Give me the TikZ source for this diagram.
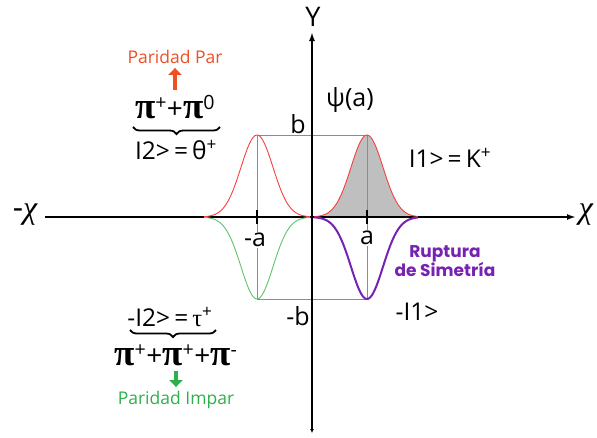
\documentclass[tikz,border=0pt]{standalone}
\usepackage{fontspec}
\setmainfont{Open Sans}
\newfontfamily\grk{Liberation Serif}
\newfontfamily\rup{Poppins}
\usetikzlibrary{arrows.meta,decorations.pathreplacing,positioning}
\definecolor{parred}{RGB}{240,78,35}
\definecolor{curvered}{RGB}{248,62,62}
\definecolor{impgreen}{RGB}{45,176,75}
\definecolor{curvegreen}{RGB}{95,195,110}
\definecolor{rupviolet}{RGB}{118,34,178}

\begin{document}
\begin{tikzpicture}[x=1pt,y=1pt,
    lbl/.style={font=\fontsize{25}{27}\selectfont, inner sep=1pt},
    ket/.style={font=\fontsize{24.5}{26}\selectfont, inner sep=1pt},
    parity/.style={font=\fontsize{17.5}{19}\selectfont, inner sep=1pt},
    pions/.style={font=\fontsize{28}{30}\selectfont, inner sep=1pt},
    guide/.style={black!45, line width=0.8pt},
    fatarrow/.style={line width=4.5pt, -{Triangle[width=13pt,length=7pt]}, shorten <=4pt, shorten >=3pt},
    underbrace/.style={decorate, decoration={brace, mirror, amplitude=7pt}, line width=1.8pt}]

    \useasboundingbox (-312,-220) rectangle (285,217);
    \def\a{55}
    \def\b{82}
    \def\w{16}

    \coordinate (O) at (0,0);
    \coordinate (xL) at (-267,0);
    \coordinate (xR) at (264,0);
    \coordinate (yB) at (0,-216);
    \coordinate (yT) at (0,185);
    \coordinate (Pp) at (\a,\b);
    \coordinate (Pm) at (-\a,\b);
    \coordinate (Tp) at (\a,-\b);
    \coordinate (Tm) at (-\a,-\b);

    \fill[black!25] plot[domain=2:106, samples=80] (\x,{\b*exp(-((\x-\a)/\w)^2/2)}) -- cycle;

    \draw[guide] (Pm) -- (Pp);
    \draw[guide] (Tm) -- (Tp);
    \draw[guide] (Pm) -- (Tm);
    \draw[guide] (Pp) -- (Tp);

    \draw[line width=2pt, -{Latex[length=9pt,width=6pt]}] (xL) -- (xR);
    \draw[line width=2pt, {Latex[length=4pt,width=4pt]}-{Latex[length=9pt,width=6pt]}] (yB) -- (yT);
    \foreach \t in {-\a,\a} {\draw[line width=2pt] (\t,-7) -- (\t,7);}

    \draw[curvered, line width=0.9pt] plot[domain=2:106, samples=80] (\x,{\b*exp(-((\x-\a)/\w)^2/2)});
    \draw[curvered, line width=0.9pt] plot[domain=-108:-2, samples=80] (\x,{\b*exp(-((\x+\a)/\w)^2/2)});
    \draw[curvegreen, line width=0.9pt] plot[domain=-108:-2, samples=80] (\x,{-\b*exp(-((\x+\a)/\w)^2/2)});
    \draw[rupviolet, line width=2pt] plot[domain=2:106, samples=80] (\x,{-\b*exp(-((\x-\a)/\w)^2/2)});

    % etiquetas de los ejes
    \node[lbl, font=\fontsize{27}{29}\selectfont] (ylab) at (1,200) {Y};
    \node[lbl, font=\fontsize{32}{34}\selectfont] (chiL) at (-287,2) {-{\grk\itshape χ}};
    \node[lbl, font=\fontsize{32}{34}\selectfont] (chiR) at (274,2) {{\grk\itshape χ}};
    \node[lbl] (nb) at (-14,93) {b};
    \node[lbl] (nmb) at (-14,-99) {-b};
    \node[lbl, fill=white] (na) at (\a,-21) {a};
    \node[lbl, fill=white] (nma) at (-57,-23) {-a};
    \node[lbl] (psi) at (38,117) {ψ(a)};

    \node[ket] (ket1) at (138,59) {I1>\,=\,K\textsuperscript{+}};
    \node[ket] (mket1) at (105,-95) {-I1>};
    \node[font=\rup\bfseries\fontsize{17}{16}\selectfont, text=rupviolet, align=center] (rup) at (133,-44) {Ruptura\\de Simetría};

    \node[parity, text=parred] (parPar) at (-137,160) {Paridad Par};
    \node[pions] (piTop) at (-137,110) {{\grk\bfseries\fontsize{37}{39}\selectfont π}\textsuperscript{+}+{\grk\bfseries\fontsize{37}{39}\selectfont π}\textsuperscript{0}};
    \node[ket] (ket2) at (-136,67) {I2>\,=\,θ\textsuperscript{+}};
    \coordinate (bTL) at (-179,90);
    \coordinate (bTR) at (-92,90);
    \draw[underbrace] (bTL) -- (bTR);
    \draw[fatarrow, parred] (piTop.north) -- (piTop.north |- parPar.south);

    \node[ket] (mket2) at (-142,-100) {-I2>\,=\,{\grk τ}\textsuperscript{+}};
    \coordinate (bBL) at (-182,-113);
    \coordinate (bBR) at (-96,-113);
    \draw[underbrace] (bBL) -- (bBR);
    \node[pions] (piBot) at (-136,-138) {{\grk\bfseries\fontsize{37}{39}\selectfont π}\textsuperscript{+}+{\grk\bfseries\fontsize{37}{39}\selectfont π}\textsuperscript{+}+{\grk\bfseries\fontsize{37}{39}\selectfont π}\textsuperscript{-}};
    \node[parity, text=impgreen] (parImp) at (-136,-183) {Paridad Impar};
    \draw[fatarrow, impgreen] (piBot.south) -- (piBot.south |- parImp.north);
\end{tikzpicture}
\end{document}
